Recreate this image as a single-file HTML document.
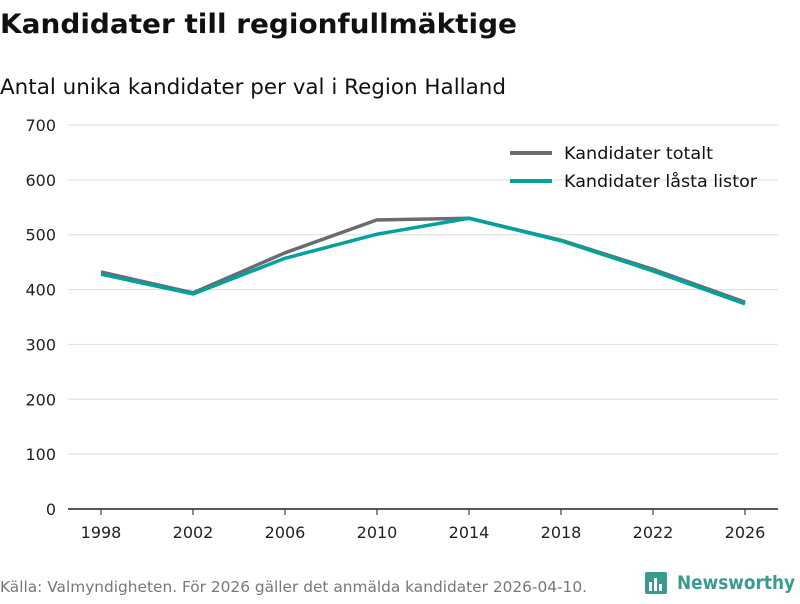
<!DOCTYPE html>
<html><head><meta charset="utf-8"><style>
body{margin:0;background:#fff;font-family:"DejaVu Sans","Liberation Sans",sans-serif;}
svg text{font-family:"DejaVu Sans","Liberation Sans",sans-serif;}
</style></head><body>
<svg id="chart" width="800" height="600" viewBox="0 0 800 600">
<text x="0" y="33" font-size="27" font-weight="bold" fill="#111" textLength="517" lengthAdjust="spacingAndGlyphs">Kandidater till regionfullmäktige</text>
<text x="0" y="94" font-size="21" fill="#111" textLength="506" lengthAdjust="spacingAndGlyphs">Antal unika kandidater per val i Region Halland</text>
<g id="grid"></g><g id="xaxis"></g><g id="lines"></g>
<g>
<line x1="510" y1="153" x2="552" y2="153" stroke="#6d6b72" stroke-width="4"/>
<text x="564" y="159" font-size="17" fill="#111" textLength="149" lengthAdjust="spacingAndGlyphs">Kandidater totalt</text>
<line x1="510" y1="181" x2="552" y2="181" stroke="#00a29a" stroke-width="4"/>
<text x="564" y="187" font-size="17" fill="#111" textLength="193" lengthAdjust="spacingAndGlyphs">Kandidater låsta listor</text>
</g>
<text x="0" y="592" font-size="15" fill="#777" textLength="587" lengthAdjust="spacingAndGlyphs">Källa: Valmyndigheten. För 2026 gäller det anmälda kandidater 2026-04-10.</text>
<g>
<rect x="645" y="572" width="22" height="22" rx="2" fill="#3a9a8e"/>
<rect x="649" y="582" width="3" height="9" fill="#fff"/><rect x="654" y="578" width="3" height="13" fill="#fff"/><rect x="659" y="584" width="3" height="7" fill="#fff"/>
<text x="677" y="589" font-size="19" font-weight="bold" fill="#3a9a8e" textLength="118" lengthAdjust="spacingAndGlyphs">Newsworthy</text>
</g>
</svg>
<script>
const years=["1998","2002","2006","2010","2014","2018","2022","2026"];
const totalt=[432,394,467,527,530,490,437,377];
const lasta=[428,392,457,501,530,489,434,374];
const yTicks=[0,100,200,300,400,500,600,700];
const NS="http://www.w3.org/2000/svg";
const x=i=>101+i*92;
const y=v=>509-v*(384/700);
function mk(t,a,p){const e=document.createElementNS(NS,t);for(const k in a)e.setAttribute(k,a[k]);p.appendChild(e);return e;}
const g=document.getElementById('grid');
yTicks.forEach(v=>{
 if(v>0){const l=mk('line',{x1:68,x2:778,y1:y(v),y2:y(v),stroke:'#ddd','stroke-width':1},g);
 
 }
 const t=mk('text',{x:56,y:y(v)+6,'font-size':16,fill:'#222','text-anchor':'end'},g);t.textContent=v;
 
 
});
const xa=document.getElementById('xaxis');
const ax=mk('line',{x1:68,x2:778,y1:509,y2:509,stroke:'#222','stroke-width':1.5},xa);


years.forEach((yr,i)=>{
 const tk=mk('line',{x1:x(i),x2:x(i),y1:509,y2:515,stroke:'#222'},xa);
 
 
 const t=mk('text',{x:x(i),y:538,'font-size':16,fill:'#222','text-anchor':'middle'},xa);t.textContent=yr;
 
 
});
const L=document.getElementById('lines');
[[totalt,'#6d6b72','line-totalt'],[lasta,'#00a29a','line-lasta']].forEach(([d,c,n])=>{
 const p=mk('polyline',{points:d.map((v,i)=>x(i)+','+y(v)).join(' '),fill:'none',stroke:c,'stroke-width':3.5,'stroke-linejoin':'round'},L);
 
 
});
</script>
</body></html>
